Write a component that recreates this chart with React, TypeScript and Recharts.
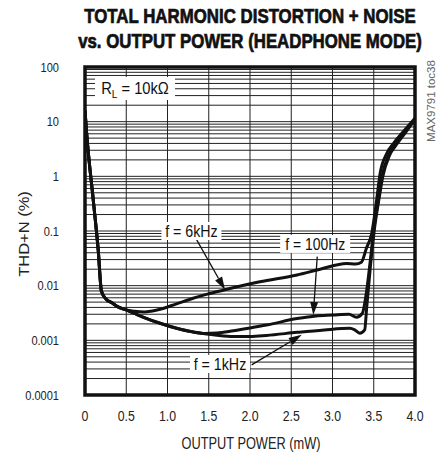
import React from 'react';
import {
  LineChart,
  Line,
  XAxis,
  YAxis,
  CartesianGrid,
  ReferenceArea,
  ReferenceDot,
  ReferenceLine,
  Customized,
} from 'recharts';

const FONT = "'Liberation Sans', Arial, Helvetica, sans-serif";

// Axis ticks
const xTicks = [0, 0.5, 1, 1.5, 2, 2.5, 3, 3.5, 4];
const xTickLabels = ['0', '0.5', '1.0', '1.5', '2.0', '2.5', '3.0', '3.5', '4.0'];
const decades = [0.0001, 0.001, 0.01, 0.1, 1, 10, 100];
const decadeLabels = ['0.0001', '0.001', '0.01', '0.1', '1', '10', '100'];
const minorSteps = [2, 3, 4, 5, 6, 7, 8, 9];

// f = 6kHz
const power6k = [0, 0.02, 0.1, 0.16, 0.2, 0.26, 0.32, 0.4, 0.5, 0.6, 0.72, 0.8, 0.91, 1.1, 1.31, 1.5, 1.72, 2.12, 2.57, 2.85, 3.17, 3.28, 3.35, 3.41, 3.475, 3.535, 3.576, 3.657, 3.74, 3.86, 4.0];
const thd6k = [16, 6.1, 0.37, 0.045, 0.0078, 0.0056, 0.0049, 0.0041, 0.0036, 0.0034, 0.0033, 0.0034, 0.0037, 0.0046, 0.0059, 0.0071, 0.0086, 0.0118, 0.0157, 0.02, 0.0255, 0.0248, 0.0268, 0.048, 0.09, 0.37, 1.1, 2.6, 4.0, 6.6, 11.5];

// f = 100Hz
const power100 = [0, 0.02, 0.1, 0.16, 0.2, 0.26, 0.32, 0.4, 0.5, 0.6, 0.71, 0.91, 1.11, 1.3, 1.45, 1.6, 1.8, 2.0, 2.2, 2.57, 2.8, 3.0, 3.2, 3.29, 3.36, 3.415, 3.455, 3.5, 3.56, 3.6, 3.68, 3.76, 3.87, 4.0];
const thd100 = [16, 6.1, 0.37, 0.045, 0.0078, 0.0056, 0.0049, 0.0041, 0.0036, 0.0031, 0.00264, 0.00205, 0.00166, 0.00143, 0.00134, 0.00136, 0.0015, 0.00168, 0.0019, 0.0025, 0.0028, 0.0029, 0.003, 0.00265, 0.0031, 0.0083, 0.026, 0.104, 0.4, 1.0, 2.4, 3.8, 6.3, 11];

// f = 1kHz
const power1k = [0, 0.02, 0.1, 0.16, 0.2, 0.26, 0.32, 0.4, 0.5, 0.6, 0.71, 0.91, 1.11, 1.3, 1.45, 1.6, 1.8, 2.0, 2.2, 2.57, 2.9, 3.21, 3.27, 3.33, 3.39, 3.415, 3.455, 3.505, 3.565, 3.61, 3.69, 3.77, 3.88, 4.0];
const thd1k = [16, 6.1, 0.37, 0.045, 0.0078, 0.0056, 0.0049, 0.0041, 0.0036, 0.0031, 0.00264, 0.00205, 0.00166, 0.00143, 0.00132, 0.00124, 0.00118, 0.00118, 0.00123, 0.0014, 0.00155, 0.00166, 0.00155, 0.00135, 0.00155, 0.0041, 0.019, 0.1, 0.4, 1.0, 2.4, 3.7, 6.2, 11];

const toData = (xs: number[], ys: number[]) => xs.map((x, i) => ({ x, y: ys[i] }));
const data6k = toData(power6k, thd6k);
const data100 = toData(power100, thd100);
const data1k = toData(power1k, thd1k);

const yTicks: number[] = [];
decades.forEach((d, i) => {
  yTicks.push(d);
  if (i < decades.length - 1) minorSteps.forEach((m) => yTicks.push(d * m));
});

const yFmt = (v: number) => {
  const i = decades.findIndex((d) => Math.abs(v / d - 1) < 1e-6);
  return i >= 0 ? decadeLabels[i] : '';
};
const xFmt = (v: number) => {
  const i = xTicks.findIndex((t) => Math.abs(t - v) < 1e-6);
  return i >= 0 ? xTickLabels[i] : '';
};

// Narrow (horizontally scaled) text
const NText = (p: {
  x: number; y: number; size: number; sx: number; anchor?: string; rot?: number;
  weight?: number; fill?: string; stroke?: number; dy?: string; children: React.ReactNode;
}) => (
  <text
    transform={`translate(${p.x},${p.y}) rotate(${p.rot || 0}) scale(${p.sx},1)`}
    x={0}
    y={0}
    dy={p.dy}
    textAnchor={(p.anchor as any) || 'middle'}
    fontFamily={FONT}
    fontSize={p.size}
    fontWeight={p.weight || 400}
    fill={p.fill || '#222'}
    stroke={p.stroke ? p.fill || '#222' : undefined}
    strokeWidth={p.stroke}
  >
    {p.children}
  </text>
);

const makeTick = (fmt: (v: number) => string, size: number, sx: number, dy: string) => (props: any) => {
  const { x, y, payload, textAnchor } = props;
  const label = fmt(payload.value);
  if (!label) return <g />;
  return (
    <NText x={x} y={y} size={size} sx={sx} anchor={textAnchor} dy={dy}>
      {label}
    </NText>
  );
};

const boxLabel = (text: React.ReactNode, w: number, h: number, fs: number, sx: number) => (props: any) => {
  const { cx, cy } = props;
  return (
    <g>
      <rect x={cx - w / 2} y={cy - h / 2} width={w} height={h} fill="#fff" />
      <NText x={cx} y={cy} size={fs} sx={sx} dy="0.36em" fill="#111">
        {text}
      </NText>
    </g>
  );
};

const arrowShape = (props: any) => {
  const { x1, y1, x2, y2 } = props;
  const dx = x2 - x1;
  const dy = y2 - y1;
  const len = Math.sqrt(dx * dx + dy * dy) || 1;
  const ux = dx / len;
  const uy = dy / len;
  const hl = 13;
  const hw = 4;
  const bx = x2 - ux * hl;
  const by = y2 - uy * hl;
  const pts = `${x2},${y2} ${bx - uy * hw},${by + ux * hw} ${bx + uy * hw},${by - ux * hw}`;
  return (
    <g>
      <line x1={x1} y1={y1} x2={bx} y2={by} stroke="#111" strokeWidth={1.3} />
      <polygon points={pts} fill="#111" />
    </g>
  );
};

const TextLayer = () => (
  <g>
    <NText x={250} y={22.7} size={20} sx={0.843} weight={700} fill="#111" stroke={0.7}>
      TOTAL HARMONIC DISTORTION + NOISE
    </NText>
    <NText x={250} y={47.7} size={20} sx={0.841} weight={700} fill="#111" stroke={0.7}>
      vs. OUTPUT POWER (HEADPHONE MODE)
    </NText>
    <NText x={29.3} y={234} rot={-90} size={15} sx={1.1}>
      THD+N (%)
    </NText>
    <NText x={251} y={449} size={16} sx={0.8}>
      OUTPUT POWER (mW)
    </NText>
    <NText x={435} y={101} rot={-90} size={11.5} sx={1.0} fill="#666">
      MAX9791 toc38
    </NText>
  </g>
);

export default function App() {
  return (
    <div style={{ position: 'absolute', left: 0, top: 0, width: 437, height: 459, background: '#fff' }}>
      <LineChart width={437} height={459} margin={{ top: 67, right: 22, bottom: 34, left: 0 }}>
        <CartesianGrid stroke="#222" strokeWidth={1} />
        <XAxis
          type="number"
          dataKey="x"
          domain={[0, 4]}
          ticks={xTicks}
          interval={0}
          tickLine={false}
          axisLine={false}
          tickSize={0}
          tickMargin={16}
          height={30}
          tick={makeTick(xFmt, 14, 0.88, '0.71em')}
          allowDataOverflow
        />
        <YAxis
          type="number"
          scale="log"
          domain={[0.0001, 100]}
          ticks={yTicks}
          interval={0}
          tickLine={false}
          axisLine={false}
          tickSize={0}
          tickMargin={26}
          width={85}
          tick={makeTick(yFmt, 13, 0.85, '0.355em')}
          allowDataOverflow
        />
        <ReferenceArea x1={0} x2={4} y1={0.0001} y2={100} fill="none" stroke="#111" strokeWidth={3.5} ifOverflow="visible" />
        <Line data={data6k} dataKey="y" type="monotone" stroke="#111" strokeWidth={3} dot={false} isAnimationActive={false} />
        <Line data={data100} dataKey="y" type="monotone" stroke="#111" strokeWidth={3} dot={false} isAnimationActive={false} />
        <Line data={data1k} dataKey="y" type="monotone" stroke="#111" strokeWidth={3} dot={false} isAnimationActive={false} />
        <ReferenceDot x={0.606} y={40.5} r={1} ifOverflow="visible"
          shape={boxLabel(<>R<tspan fontSize={11} dy="4">L</tspan><tspan dy="-4"> = 10kΩ</tspan></>, 80, 23, 16, 0.92)} />
        <ReferenceDot x={1.29} y={0.1} r={1} ifOverflow="visible" shape={boxLabel('f = 6kHz', 60, 18, 16, 0.89)} />
        <ReferenceDot x={2.79} y={0.058} r={1} ifOverflow="visible" shape={boxLabel('f = 100Hz', 70, 18, 16, 0.87)} />
        <ReferenceDot x={1.636} y={0.000369} r={1} ifOverflow="visible" shape={boxLabel('f = 1kHz', 60, 18, 16, 0.89)} />
        <ReferenceLine segment={[{ x: 1.354, y: 0.0687 }, { x: 1.697, y: 0.0084 }]} ifOverflow="visible" shape={arrowShape} />
        <ReferenceLine segment={[{ x: 2.815, y: 0.034 }, { x: 2.767, y: 0.00292 }]} ifOverflow="visible" shape={arrowShape} />
        <ReferenceLine segment={[{ x: 2.02, y: 0.000356 }, { x: 2.627, y: 0.00126 }]} ifOverflow="visible" shape={arrowShape} />
        <Customized component={TextLayer} />
      </LineChart>
    </div>
  );
}
